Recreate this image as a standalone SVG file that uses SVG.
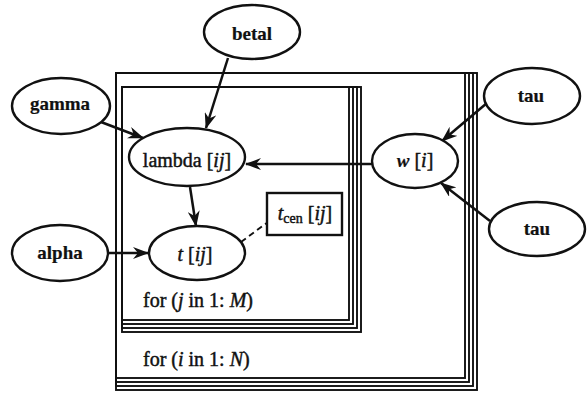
<svg xmlns="http://www.w3.org/2000/svg" width="587" height="395" viewBox="0 0 587 395">
<defs>
<style>
.n{fill:#fff;stroke:#111;stroke-width:2.4}
.p{fill:none;stroke:#111;stroke-width:1.9}
.e{stroke:#111;stroke-width:2.5;fill:none}
.d{stroke:#111;stroke-width:1.9;fill:none;stroke-dasharray:6 4}
text{font-family:"Liberation Serif","Times New Roman",serif;font-size:20px;fill:#111;stroke:#111;stroke-width:0.45}
.b{font-weight:bold;stroke-width:0.2;font-size:19px}
.c{text-anchor:middle}
.i{font-style:italic}
</style>
<marker id="ah" viewBox="0 0 16 12" refX="15" refY="6" markerWidth="16" markerHeight="12" markerUnits="userSpaceOnUse" orient="auto">
<path d="M0,0 L16,6 L0,12 L5,6 z" fill="#111"/>
</marker>
</defs>
<g id="plate-i">
<rect class="p" x="116" y="73" width="349" height="305"/>
<rect class="p" x="116" y="73" width="353" height="309"/>
<rect class="p" x="116" y="73" width="357" height="313"/>
<rect class="p" x="116" y="73" width="361" height="317"/>
<text x="143" y="366">for (<tspan class="i">i</tspan> in 1: <tspan class="i">N</tspan>)</text>
</g>
<g id="plate-j">
<rect class="p" x="122" y="87" width="227" height="233"/>
<rect class="p" x="122" y="87" width="231" height="237"/>
<rect class="p" x="122" y="87" width="235" height="241"/>
<rect class="p" x="122" y="87" width="239" height="245"/>
<text x="143" y="307">for (<tspan class="i">j</tspan> in 1: <tspan class="i">M</tspan>)</text>
</g>
<g id="connectors">
<line class="e" x1="228" y1="58" x2="206" y2="128" marker-end="url(#ah)"/>
<line class="e" x1="101" y1="122" x2="143" y2="138" marker-end="url(#ah)"/>
<line class="e" x1="372" y1="164" x2="246" y2="164" marker-end="url(#ah)"/>
<line class="e" x1="190" y1="187" x2="196" y2="226" marker-end="url(#ah)"/>
<line class="e" x1="108" y1="253" x2="148" y2="253" marker-end="url(#ah)"/>
<line class="e" x1="487" y1="103" x2="442" y2="141" marker-end="url(#ah)"/>
<line class="e" x1="490" y1="221" x2="441" y2="183" marker-end="url(#ah)"/>
<line class="d" x1="241" y1="242" x2="268" y2="222"/>
</g>
<g id="betal"><ellipse class="n" cx="252" cy="32" rx="48" ry="27"/><text class="c b" x="252" y="40">betal</text></g>
<g id="gamma"><ellipse class="n" cx="61" cy="106" rx="49" ry="28"/><text class="c b" x="60" y="110">gamma</text></g>
<g id="lambda"><ellipse class="n" cx="187" cy="157" rx="58" ry="29"/><text class="c" x="187" y="167">lambda [<tspan class="i">ij</tspan>]</text></g>
<g id="t"><ellipse class="n" cx="197" cy="253" rx="48" ry="27"/><text class="c" x="195" y="261"><tspan class="i">t</tspan> [<tspan class="i">ij</tspan>]</text></g>
<g id="alpha"><ellipse class="n" cx="60" cy="253" rx="48" ry="28"/><text class="c b" x="60" y="259">alpha</text></g>
<g id="tcen"><rect class="n" x="267" y="193" width="75" height="42"/><text class="c" x="305" y="220"><tspan class="i">t</tspan><tspan font-size="14" dy="3">cen</tspan><tspan dy="-3"> [</tspan><tspan class="i">ij</tspan>]</text></g>
<g id="w"><ellipse class="n" cx="415" cy="161" rx="43" ry="27"/><text class="c" x="415" y="167"><tspan class="i b">w</tspan> [<tspan class="i">i</tspan>]</text></g>
<g id="tau1"><ellipse class="n" cx="532" cy="96" rx="48" ry="28"/><text class="c b" x="531" y="102">tau</text></g>
<g id="tau2"><ellipse class="n" cx="537" cy="229" rx="48" ry="27"/><text class="c b" x="537" y="235">tau</text></g>
</svg>
